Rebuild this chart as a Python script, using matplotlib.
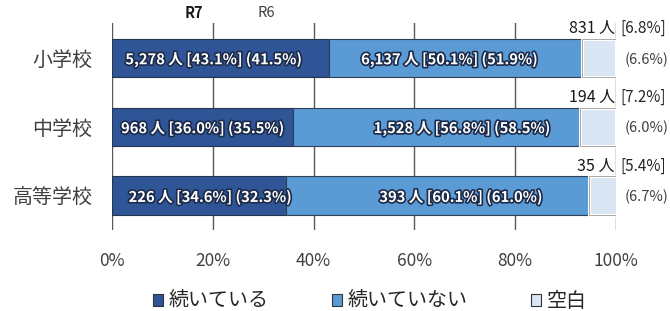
import numpy as np
import matplotlib
matplotlib.use("Agg")
import matplotlib.pyplot as plt
import matplotlib.patheffects as pe
from matplotlib.patches import Patch

plt.rcParams['font.family'] = ['Noto Sans CJK JP', 'DejaVu Sans']

schools = ["小学校", "中学校", "高等学校"]

cont_n = [5278, 968, 226]
cont_r7 = [43.1, 36.0, 34.6]
cont_r6 = [41.5, 35.5, 32.3]

notc_n = [6137, 1528, 393]
notc_r7 = [50.1, 56.8, 60.1]
notc_r6 = [51.9, 58.5, 61.0]

blank_n = [831, 194, 35]
blank_r7 = [6.8, 7.2, 5.4]
blank_r6 = [6.6, 6.0, 6.7]

legend_labels = ["続いている", "続いていない", "空白"]
xticks = [0, 20, 40, 60, 80, 100]

c_dark = "#2f5597"
c_light = "#5b9bd5"
c_blank = "#dae6f4"
txt = "#404040"

# small nudges so the inner labels sit where the original puts them
shift_dark = [-1.4, 0.0, 2.2]
shift_light = [-1.2, 5.0, 4.6]

fig = plt.figure(figsize=(6.7, 3.11), dpi=100)
ax = fig.add_axes([112 / 670, 1 - 230 / 311, 504 / 670, 207 / 311])

y = np.arange(len(schools))
h = 0.56
left2 = np.array(cont_r7)
left3 = left2 + np.array(notc_r7)

for xv in xticks:
    ax.axvline(xv, color="#595959", lw=1.0, zorder=1)

ax.barh(y, cont_r7, height=h, color=c_dark, edgecolor="#26344f", lw=0.8, zorder=3)
ax.barh(y, notc_r7, left=left2, height=h, color=c_light, edgecolor="#2f3f55", lw=0.8, zorder=3)
ax.barh(y, blank_r7, left=left3, height=h, color=c_blank, edgecolor="white", lw=2.2, zorder=3)
ax.barh(y, blank_r7, left=left3, height=h, fill=False, edgecolor="#9a9a9a", lw=0.6, zorder=4)

stroke = [pe.withStroke(linewidth=2.4, foreground="#1c2b4a")]
for i in range(len(schools)):
    s1 = f"{cont_n[i]:,} 人 [{cont_r7[i]:.1f}%] ({cont_r6[i]:.1f}%)"
    ax.text(cont_r7[i] / 2 + shift_dark[i], y[i] + 0.02, s1, color="white",
            ha="center", va="center", fontsize=10.6, fontweight="bold",
            path_effects=stroke, zorder=5)
    s2 = f"{notc_n[i]:,} 人 [{notc_r7[i]:.1f}%] ({notc_r6[i]:.1f}%)"
    ax.text(left2[i] + notc_r7[i] / 2 + shift_light[i], y[i] + 0.02, s2, color="white",
            ha="center", va="center", fontsize=10.6, fontweight="bold",
            path_effects=stroke, zorder=5)
    ax.text(99.8, y[i] - 0.43, f"{blank_n[i]:,} 人", color="#1a1a1a",
            ha="right", va="center", fontsize=11.5, clip_on=False, zorder=5)
    ax.text(100.8, y[i] - 0.43, f"[{blank_r7[i]:.1f}%]", color="#262626",
            ha="left", va="center", fontsize=11, clip_on=False, zorder=5)
    ax.text(101.8, y[i] + 0.02, f"({blank_r6[i]:.1f}%)", color=txt,
            ha="left", va="center", fontsize=10.5, clip_on=False, zorder=5)

ax.set_xlim(0, 100)
ax.set_ylim(2.5, -0.51)
ax.set_xticks(xticks)
ax.set_xticklabels([f"{v}%" for v in xticks], color=txt, fontsize=12.5)
ax.set_yticks(y)
ax.set_yticklabels(schools, color=txt, fontsize=14.4)
ax.tick_params(axis="x", length=0, pad=16)
ax.tick_params(axis="y", length=0, pad=14)
for sp in ax.spines.values():
    sp.set_visible(False)

fig.text(194 / 670, 1 - 13 / 311, "R7", ha="center", va="center",
         fontsize=10.5, fontweight="bold", color="#1a1a1a")
fig.text(266 / 670, 1 - 13 / 311, "R6", ha="center", va="center",
         fontsize=10.5, color=txt)

handles = [Patch(facecolor=c, edgecolor="#333333", lw=0.8)
           for c in [c_dark, c_light, c_blank]]
fig.legend(handles, legend_labels, loc="center", bbox_to_anchor=(0.552, 0.03),
           ncol=3, frameon=False, fontsize=14.4, handlelength=0.5, handleheight=0.5,
           handletextpad=0.25, columnspacing=3.2, labelcolor="#262626")

fig.savefig("out.png", dpi=100)
